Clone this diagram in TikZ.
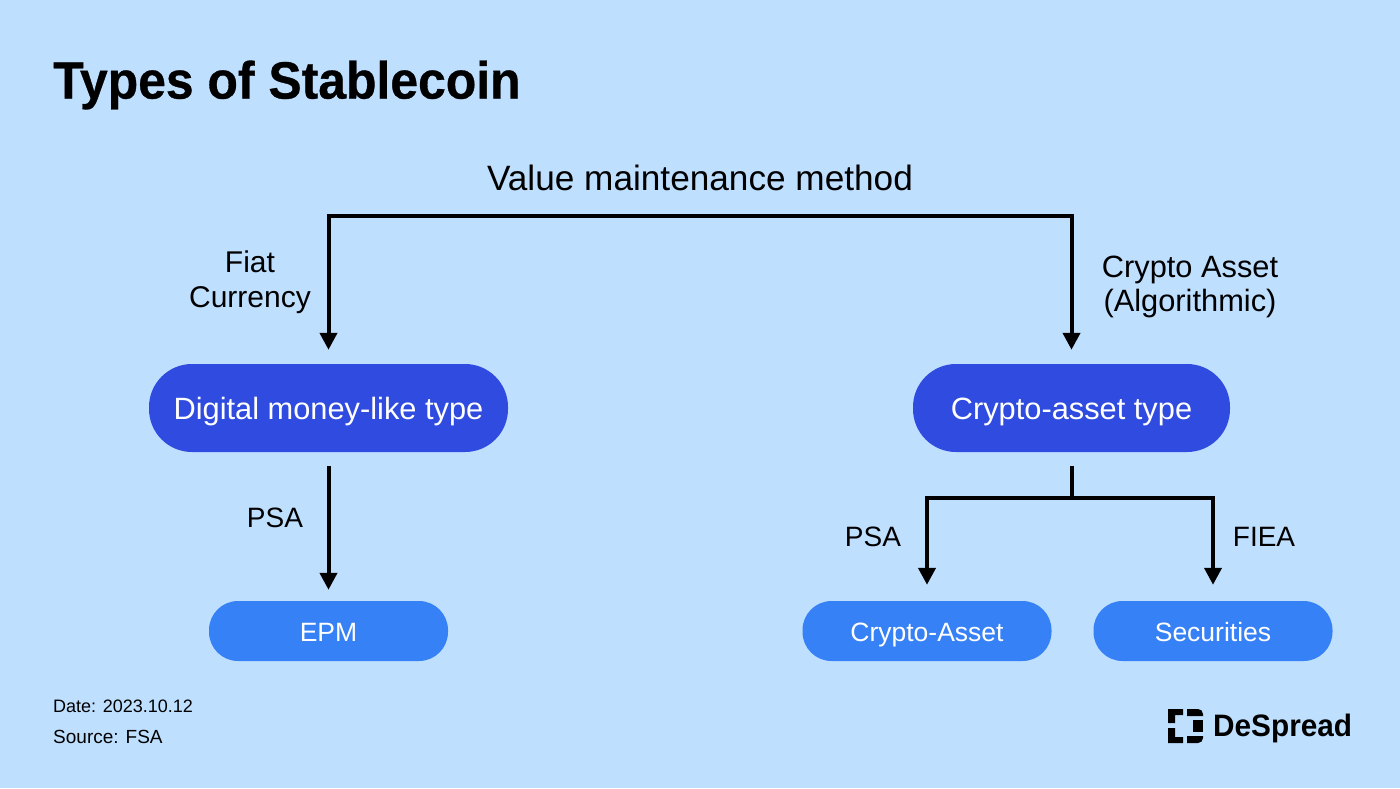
\documentclass[tikz,border=0pt]{standalone}
\usepackage{fontspec}
\setmainfont{Liberation Sans}
\newfontfamily\titlefont[FakeStretch=0.95,FakeBold=0.6]{Liberation Sans Bold}
\newfontfamily\brandfont[FakeStretch=0.96]{Liberation Sans Bold}
\usetikzlibrary{arrows.meta}
\definecolor{bgc}{HTML}{BFDFFF}
\definecolor{darkb}{HTML}{2F4BE0}
\definecolor{lightb}{HTML}{3781F7}
\tikzset{
  lab/.style={text=black, font=\fontsize{30}{34.5}\selectfont, align=center, inner sep=0pt},
  conn/.style={draw=black, line width=4pt},
  arr/.style={conn, -{Triangle[length=17pt,width=17pt]}},
  bigbox/.style={fill=darkb, rounded corners=43pt, minimum width=359pt, minimum height=88pt, inner sep=0pt, text=white, text height=23pt, text depth=0pt, font=\fontsize{30.8}{35}\selectfont},
  smallbox/.style={fill=lightb, rounded corners=29pt, minimum height=60pt, inner sep=0pt, text=white, text height=21pt, text depth=0pt, font=\fontsize{26.5}{30}\selectfont},
  small/.style={text=black, font=\fontsize{18.5}{23}\selectfont, anchor=west, inner sep=0pt},
}
\begin{document}
\begin{tikzpicture}[x=1pt,y=-1pt]
\useasboundingbox (0,0) rectangle (1400,788);
\fill[bgc] (0,0) rectangle (1400,788);
\node[anchor=west,inner sep=0pt,font=\titlefont\fontsize{52.5}{60}\selectfont] (title) at (53,85) {Types of Stablecoin};
\node[lab,font=\fontsize{35.2}{40}\selectfont] (vm) at (700,178) {Value maintenance method};
\node[bigbox] (dm) at (328.5,408) {Digital money-like type};
\node[bigbox,minimum width=317pt] (ca) at (1071.5,408) {Crypto-asset type};
\node[smallbox,minimum width=239pt] (epm) at (328.5,631) {EPM};
\node[smallbox,minimum width=249pt] (cas) at (927,631) {Crypto-Asset};
\node[smallbox,minimum width=239pt] (sec) at (1213,631) {Securities};
\coordinate (top) at (700,216);
\draw[arr] (dm.north |- top) ++(0,-2) -- ([yshift=14pt]dm.north);
\draw[arr] (ca.north |- top) ++(0,-2) -- ([yshift=14pt]ca.north);
\draw[conn] (dm.north |- top) -- (ca.north |- top);
\draw[arr] ([yshift=-14pt]dm.south) -- ([yshift=11pt]epm.north);
\coordinate (split) at (1071.5,498);
\draw[conn] ([yshift=-14pt]ca.south) -- (split);
\draw[arr] (cas.north |- split) ++(0,-2) -- ([yshift=16pt]cas.north);
\draw[arr] (sec.north |- split) ++(0,-2) -- ([yshift=16pt]sec.north);
\draw[conn] (cas.north |- split) -- (sec.north |- split);
\node[lab] (fiat) at (250,282) {Fiat\\Currency};
\node[lab,font=\fontsize{30.8}{34.5}\selectfont] (crypto) at (1190,287) {Crypto Asset\\(Algorithmic)};
\node[lab,font=\fontsize{28}{34}\selectfont] (psa1) at (275,518) {PSA};
\node[lab,font=\fontsize{28}{34}\selectfont] (psa2) at (873,537) {PSA};
\node[lab,font=\fontsize{28}{34}\selectfont] (fiea) at (1264,537) {FIEA};
\node[small,font=\fontsize{18}{23}\selectfont] (date) at (53,706) {Date: 2023.10.12};
\node[small,font=\fontsize{19}{23}\selectfont] (src) at (53,737) {Source: FSA};
\node[anchor=west,inner sep=0pt,font=\brandfont\fontsize{31}{36}\selectfont] (brand) at (1213,728) {DeSpread};
\fill (1168,709) rectangle (1183,715) (1168,709) rectangle (1175,723) (1168,728) rectangle (1175,743) (1168,737) rectangle (1183,743);
\fill (1187,709) [rounded corners=5pt] -- (1203,709) [sharp corners] -- (1203,716) -- (1187,716) -- cycle;
\fill (1193,720) rectangle (1203,732);
\fill (1187,736) -- (1203,736) [rounded corners=5pt] -- (1203,743) [sharp corners] -- (1187,743) -- cycle;
\end{tikzpicture}
\end{document}
